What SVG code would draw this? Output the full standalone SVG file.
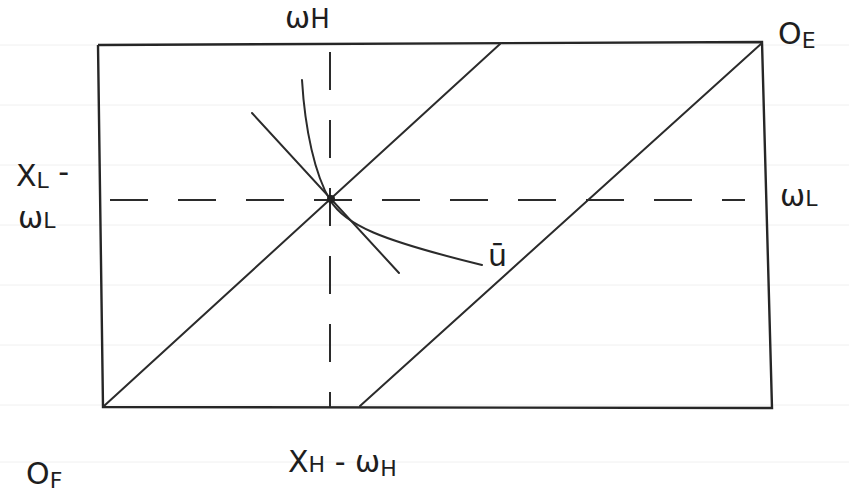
<svg xmlns="http://www.w3.org/2000/svg" width="849" height="496" viewBox="0 0 849 496">
<style>
.ln{stroke:#2b2b2b;stroke-width:2;fill:none;stroke-linecap:round}
.box{stroke:#262626;stroke-width:2.4;fill:none}
.dash{stroke:#2b2b2b;stroke-width:2;fill:none;stroke-dasharray:38 30}
.rule{stroke:#f0f0f0;stroke-width:1}
text{font-family:"DejaVu Sans","Liberation Sans",sans-serif;fill:#1e1e1e;font-size:30px}
.sub{font-size:22px}
</style>
<g id="paper-rules">
<line class="rule" x1="0" y1="45" x2="849" y2="45"/>
<line class="rule" x1="0" y1="105" x2="849" y2="105"/>
<line class="rule" x1="0" y1="165" x2="849" y2="165"/>
<line class="rule" x1="0" y1="225" x2="849" y2="225"/>
<line class="rule" x1="0" y1="285" x2="849" y2="285"/>
<line class="rule" x1="0" y1="345" x2="849" y2="345"/>
<line class="rule" x1="0" y1="405" x2="849" y2="405"/>
<line class="rule" x1="0" y1="462" x2="849" y2="462"/>
</g>
<g id="box">
<polyline class="box" points="98,45 762,42 772,408 103,407 98,45"/>
</g>
<g id="connectors">
<line class="dash" x1="330" y1="52" x2="330" y2="407"/>
<line class="dash" x1="110" y1="200" x2="745" y2="200"/>
<line class="ln" x1="104" y1="406" x2="500" y2="44"/>
<line class="ln" x1="360" y1="406" x2="762" y2="43"/>
<line class="ln" x1="252" y1="113" x2="399" y2="273"/>
<path class="ln" d="M302,80 C305,130 315,175 330,200 C345,225 380,240 482,265"/>
<circle cx="331" cy="199" r="4" fill="#222"/>
</g>
<g id="labels">
<text x="285" y="28">ω<tspan font-size="26">H</tspan></text>
<text x="778" y="44">O<tspan class="sub" dy="4">E</tspan></text>
<text x="16" y="186">X<tspan class="sub" dy="2">L</tspan><tspan dy="-6"> -</tspan></text>
<text x="18" y="228" font-size="28">ω<tspan class="sub">L</tspan></text>
<text x="780" y="206">ω<tspan class="sub">L</tspan></text>
<text x="488" y="266" font-size="34">ū</text>
<text x="288" y="472" font-size="32">X<tspan class="sub" font-size="26">H</tspan> - ω<tspan class="sub" font-size="26" dy="4">H</tspan></text>
<text x="26" y="484" font-size="34">O<tspan class="sub" dy="4">F</tspan></text>
</g>
</svg>
